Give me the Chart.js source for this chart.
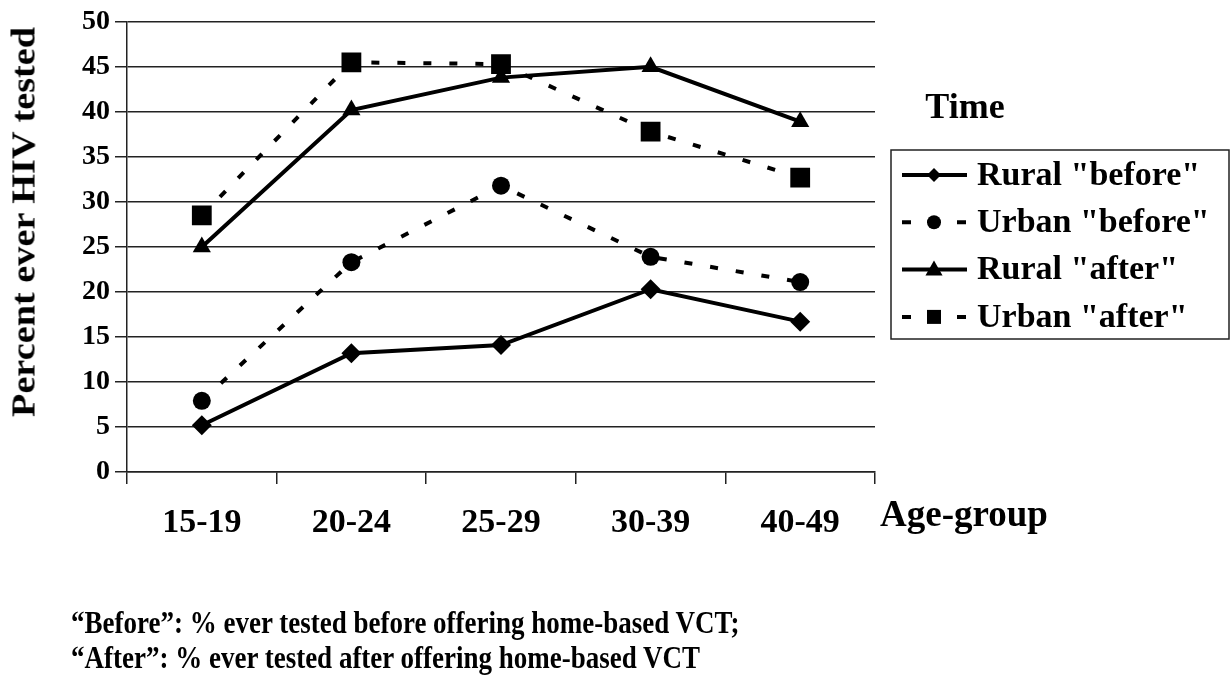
<!DOCTYPE html>
<html lang="en">
<head>
<meta charset="UTF-8">
<title>Percent ever HIV tested by age-group</title>
<script src="https://cdn.jsdelivr.net/npm/chart.js"></script>
<style>
  body { margin: 0; background: #fff; }
  #wrap { position: relative; width: 1231px; height: 679px; overflow: hidden;
          font-family: "Liberation Serif", "Times New Roman", serif; font-weight: bold; color: #000; }
  #wrap canvas { position: absolute; left: 0; top: 0; }
  .txt { position: absolute; white-space: nowrap; line-height: 1; }
  #ytitle { left: 24px; top: 222px; font-size: 33px; transform: translate(-50%, -50%) rotate(-90deg) scaleX(1.16); }
  #ltitle { left: 965px; top: 106px; font-size: 36px; transform: translate(-50%, -50%); }
  #xtitle { left: 880px; top: 495px; font-size: 37px; }
  #note { left: 71px; top: 605px; font-size: 27px; line-height: 30px; transform: scaleY(1.17); transform-origin: 0 0; }
</style>
</head>
<body>
<div id="wrap">
  <canvas id="chart" width="1231" height="679"></canvas>
  <div class="txt" id="ytitle">Percent ever HIV tested</div>
  <div class="txt" id="ltitle">Time</div>
  <div class="txt" id="xtitle">Age-group</div>
  <div class="txt" id="note">“Before”: % ever tested before offering home-based VCT;<br>“After”: % ever tested after offering home-based VCT</div>
</div>
<script>
  const ageGroups = ["15-19", "20-24", "25-29", "30-39", "40-49"];
  const ruralBefore = [5.2, 13.2, 14.1, 20.3, 16.7];
  const urbanBefore = [7.9, 23.3, 31.8, 23.9, 21.1];
  const ruralAfter = [25.0, 40.2, 43.8, 45.0, 38.9];
  const urbanAfter = [28.5, 45.5, 45.3, 37.8, 32.7];
  const seriesNames = ['Rural "before"', 'Urban "before"', 'Rural "after"', 'Urban "after"'];

  const serif = '"Liberation Serif", "Times New Roman", serif';
  const ink = "#000";
  const gridInk = "#222";
  const dash = [8, 18];

  function drawMarker(ctx, style, x, y, r) {
    ctx.beginPath();
    if (style === "circle") {
      ctx.arc(x, y, r, 0, Math.PI * 2);
    } else if (style === "rectRot") {
      ctx.moveTo(x, y - r); ctx.lineTo(x + r, y); ctx.lineTo(x, y + r); ctx.lineTo(x - r, y);
    } else if (style === "triangle") {
      ctx.moveTo(x, y - r); ctx.lineTo(x + r * 0.95, y + r * 0.65); ctx.lineTo(x - r * 0.95, y + r * 0.65);
    } else {
      ctx.rect(x - r, y - r, 2 * r, 2 * r);
    }
    ctx.closePath();
    ctx.fill();
  }

  // boxed legend on the right, like the original
  const boxLegend = {
    id: "boxLegend",
    afterDraw(chart) {
      const ctx = chart.ctx;
      ctx.save();
      ctx.strokeStyle = gridInk;
      ctx.lineWidth = 1.5;
      ctx.strokeRect(891, 150, 338, 189);
      const legendSize = { rectRot: 7, circle: 7, triangle: 9, rect: 7 };
      chart.data.datasets.forEach((ds, i) => {
        const y = 175 + i * 47.3;
        ctx.strokeStyle = ink;
        ctx.fillStyle = ink;
        ctx.lineWidth = 4;
        ctx.beginPath();
        if (ds.borderDash && ds.borderDash.length) {
          ctx.moveTo(902, y); ctx.lineTo(911, y);
          ctx.moveTo(957, y); ctx.lineTo(966, y);
        } else {
          ctx.moveTo(902, y); ctx.lineTo(967, y);
        }
        ctx.stroke();
        drawMarker(ctx, ds.pointStyle, 934, y, legendSize[ds.pointStyle]);
        ctx.font = "bold 34px " + serif;
        ctx.textBaseline = "middle";
        ctx.textAlign = "left";
        ctx.fillText(ds.label, 977, y + 1);
      });
      ctx.restore();
    }
  };

  function series(label, data, style, radius, dashed) {
    return {
      label: label,
      data: data,
      borderColor: ink,
      backgroundColor: ink,
      borderWidth: 4,
      borderDash: dashed ? dash : [],
      tension: 0,
      pointStyle: style,
      pointRadius: radius,
      pointBackgroundColor: ink,
      pointBorderColor: ink,
      pointBorderWidth: 0
    };
  }

  new Chart(document.getElementById("chart"), {
    type: "line",
    data: {
      labels: ageGroups,
      datasets: [
        series(seriesNames[0], ruralBefore, "rectRot", 10, false),
        series(seriesNames[1], urbanBefore, "circle", 9, true),
        series(seriesNames[2], ruralAfter, "triangle", 10.5, false),
        series(seriesNames[3], urbanAfter, "rect", 14, true)
      ]
    },
    options: {
      responsive: false,
      animation: false,
      layout: { padding: { left: 0, top: 21, right: 356, bottom: 107 } },
      plugins: { legend: { display: false }, tooltip: { enabled: false } },
      scales: {
        x: {
          offset: true,
          grid: { offset: true, drawOnChartArea: false, drawTicks: true, tickLength: 12, color: gridInk, lineWidth: 1.5 },
          border: { color: gridInk, width: 1.5 },
          ticks: { color: ink, font: { family: serif, size: 34, weight: "bold" }, padding: 19, maxRotation: 0 },
          afterFit(scale) { scale.height = 100; }
        },
        y: {
          min: 0,
          max: 50,
          grid: { color: gridInk, lineWidth: 1.5, tickLength: 12 },
          border: { color: gridInk, width: 1.5 },
          ticks: { stepSize: 5, color: ink, font: { family: serif, size: 28, weight: "bold" }, padding: 5 },
          afterFit(scale) { scale.width = 127; }
        }
      }
    },
    plugins: [boxLegend]
  });
</script>
</body>
</html>
